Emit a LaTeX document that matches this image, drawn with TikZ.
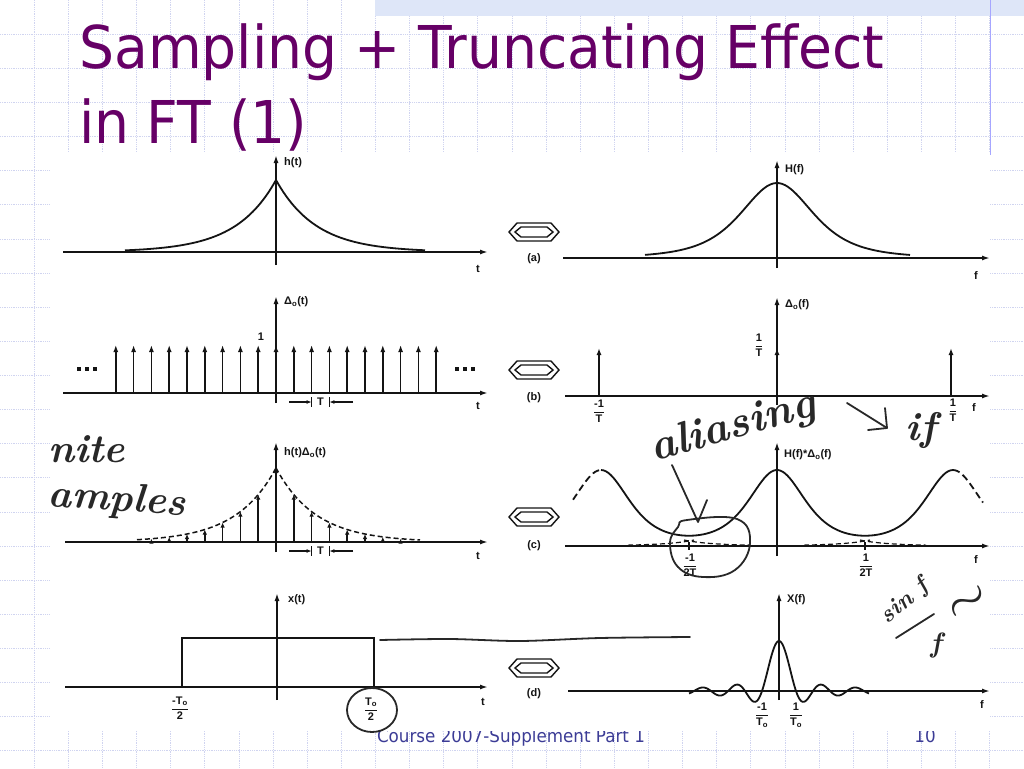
\documentclass[tikz,border=0pt]{standalone}
\usepackage{amsmath}
\usepackage{fontspec}
\usetikzlibrary{arrows.meta}
\newfontfamily\lblfont{Liberation Sans}
\newfontfamily\titlefont{DejaVu Sans}
\definecolor{titlepurple}{RGB}{102,0,102}
\definecolor{gridblue}{RGB}{208,212,240}
\definecolor{footblue}{RGB}{60,60,150}
\definecolor{bandblue}{RGB}{222,230,248}
\definecolor{ink}{RGB}{20,20,20}
\definecolor{penink}{RGB}{40,40,40}
\newcommand{\frc}[2]{$\dfrac{\text{#1}}{\text{#2}}$}

\begin{document}
\begin{tikzpicture}[x=1pt,y=-1pt,
  gridline/.style={gridblue, densely dotted, line width=0.8pt},
  axis/.style={ink, line width=1.8pt, -{Latex[length=8pt,width=5pt]}},
  plain/.style={ink, line width=1.8pt},
  imp/.style={ink, line width=1.6pt, -{Latex[length=7pt,width=5pt]}},
  smallimp/.style={ink, line width=1.5pt, -{Latex[length=5pt,width=4.5pt]}},
  env/.style={ink, line width=1.5pt, dash pattern=on 5pt off 3pt},
  lbl/.style={font=\lblfont\bfseries\fontsize{11}{11}\selectfont, text=ink, inner sep=1pt},
  hand/.style={font=\bfseries\itshape\fontsize{40}{40}\selectfont, text=penink, inner sep=0pt},
  handline/.style={penink, line width=1.8pt, line cap=round, line join=round},
  hexline/.style={ink, line width=1.4pt},
  declare function={
    hexp(\d)=exp(-abs(\d)/40);
    bell(\d,\s)=1/((1+(\d/\s)*(\d/\s))*(1+(\d/\s)*(\d/\s)));
    sinc(\d)=sin(180*\d/17)/(pi*\d/17);
  }]
\useasboundingbox (0,0) rectangle (1024,768);

% slide background
\fill[white] (0,0) rectangle (1024,768);
\foreach \i in {1,...,30} \draw[gridline] ({\i*34.13},0) -- ({\i*34.13},768);
\foreach \j in {1,...,22} \draw[gridline] (0,{\j*34.13}) -- (1024,{\j*34.13});
\fill[bandblue] (375,0) rectangle (1024,16);
\draw[blue!35, line width=0.8pt] (990,0) -- (990,155);

% title and footer
\node[font=\titlefont\fontsize{59}{59}\selectfont, text=titlepurple, anchor=base west, inner sep=0pt, xscale=0.935] (title1) at (79,68) {Sampling + Truncating Effect};
\node[font=\titlefont\fontsize{59}{59}\selectfont, text=titlepurple, anchor=base west, inner sep=0pt, xscale=0.935] (title2) at (79,143) {in FT (1)};
\node[font=\titlefont\fontsize{18}{18}\selectfont, text=footblue, anchor=base, inner sep=0pt, xscale=0.93] (footer) at (511,742) {Course 2007-Supplement Part 1};
\node[font=\titlefont\fontsize{18}{18}\selectfont, text=footblue, anchor=base, inner sep=0pt, xscale=0.93] (pageno) at (925,742) {10};

% scanned figure
\fill[white] (50,153) rectangle (990,731);

% Fourier pair symbols
\foreach \y/\ly/\p in {232/259/a, 370/398/b, 517/546/c, 668/694/d} {
  \draw[hexline] (509,\y) -- (517,\y-9) -- (551,\y-9) -- (559,\y) -- (551,\y+9) -- (517,\y+9) -- cycle;
  \draw[hexline] (515,\y) -- (521,\y-5) -- (547,\y-5) -- (553,\y) -- (547,\y+5) -- (521,\y+5) -- cycle;
  \node[lbl] (lab-\p) at (534,\ly) {(\p)};
}

% (a)
\draw[axis] (63,252) -- (488,252);
\draw[axis] (276,265) -- (276,155);
\draw[plain] plot[domain=125:276, samples=60] (\x,{252-72*hexp(\x-276)});
\draw[plain] plot[domain=276:425, samples=60] (\x,{252-72*hexp(\x-276)});
\node[lbl, anchor=west] (ht) at (283,163) {h(t)};
\node[lbl] (ta) at (478,269) {t};
\draw[axis] (563,258) -- (990,258);
\draw[axis] (777,268) -- (777,160);
\draw[plain] plot[domain=645:910, samples=90] (\x,{258-75*bell(\x-777,67)});
\node[lbl, anchor=west] (Hf) at (784,170) {H(f)};
\node[lbl] (fa) at (976,276) {f};

% (b)
\draw[axis] (63,393) -- (488,393);
\draw[axis] (276,403) -- (276,296);
\foreach \k in {-9,...,9} \draw[imp] ({276+17.8*\k},393) -- ({276+17.8*\k},345);
\foreach \x in {79,87,95,457,465,473} \fill[ink] (\x-2.2,366.8) rectangle (\x+2.2,371.2);
\node[lbl] (one) at (261,337) {1};
\node[lbl, anchor=west] (dt) at (283,302) {Δ\textsubscript{o}(t)};
\node[lbl] (tb) at (478,406) {t};
\draw[axis] (565,396) -- (990,396);
\draw[axis] (777,405) -- (777,297);
\foreach \x in {599,777,951} \draw[imp] (\x,396) -- (\x,348);
\node[lbl, anchor=west] (df) at (784,305) {Δ\textsubscript{o}(f)};
\node[lbl] (invT) at (759,345) {\frc{1}{T}};
\node[lbl] (minvT) at (599,411) {\frc{-1}{T}};
\node[lbl] (pinvT) at (953,410) {\frc{1}{T}};
\node[lbl] (fb) at (974,408) {f};

% sampling interval markers
\foreach \y in {402,551} {
  \draw[ink, line width=1.3pt, -{Latex[length=5pt,width=4pt]}] (289,\y) -- (311.6,\y);
  \draw[ink, line width=1.3pt, -{Latex[length=5pt,width=4pt]}] (353,\y) -- (329.4,\y);
  \draw[ink, line width=1.3pt] (311.6,\y-5) -- (311.6,\y+5);
  \draw[ink, line width=1.3pt] (329.4,\y-5) -- (329.4,\y+5);
  \node[lbl] (T\y) at (320.5,\y) {T};
}

% (c)
\draw[axis] (65,542) -- (488,542);
\draw[axis] (276,552) -- (276,442);
\draw[env] plot[domain=137:276, samples=50] (\x,{542-74*hexp(\x-276)});
\draw[env] plot[domain=276:420, samples=50] (\x,{542-74*hexp(\x-276)});
\foreach \k in {-7,...,7} \draw[smallimp] ({276+17.8*\k},542) -- ({276+17.8*\k},{542-74*hexp(17.8*\k)});
\node[lbl, anchor=west] (hdt) at (283,453) {h(t)Δ\textsubscript{o}(t)};
\node[lbl] (tc) at (478,556) {t};
\draw[axis] (565,546) -- (990,546);
\draw[axis] (777,556) -- (777,442);
\draw[plain] plot[domain=601:953, samples=150] (\x,{546-75*(bell(\x-425,52)+bell(\x-601,52)+bell(\x-777,52)+bell(\x-953,52)+bell(\x-1129,52))});
\draw[env, line width=1.8pt, dash pattern=on 7pt off 4pt] plot[domain=573:601, samples=15] (\x,{546-75*(bell(\x-425,52)+bell(\x-601,52)+bell(\x-777,52)+bell(\x-953,52))});
\draw[env, line width=1.8pt, dash pattern=on 7pt off 4pt] plot[domain=953:983, samples=15] (\x,{546-75*(bell(\x-601,52)+bell(\x-777,52)+bell(\x-953,52)+bell(\x-1129,52))});
\foreach \p/\a/\b in {601/684/750, 777/628/694, 777/860/926, 953/804/870}
  \draw[env, line width=1.2pt] plot[domain=\a:\b, samples=30] (\x,{546-75*bell(\x-\p,52)});
\foreach \x in {689,865} \draw[ink, line width=1.2pt] (\x,542) -- (\x,550);
\node[lbl, anchor=west] (Hdf) at (783,455) {H(f)*Δ\textsubscript{o}(f)};
\node[lbl] (mhalf) at (690,565) {\frc{-1}{2T}};
\node[lbl] (phalf) at (866,565) {\frc{1}{2T}};
\node[lbl] (fc) at (976,560) {f};

% (d)
\draw[axis] (65,687) -- (488,687);
\draw[axis] (277,700) -- (277,593);
\draw[plain] (182,687) -- (182,638) -- (374,638) -- (374,687);
\draw[handline] plot[smooth] coordinates {(380,640) (450,639) (520,641) (600,638) (690,637)};
\node[lbl, anchor=west] (xt) at (287,600) {x(t)};
\node[lbl] (td) at (483,702) {t};
\node[lbl] (mT0) at (180,708) {\frc{-T\textsubscript{o}}{2}};
\node[lbl] (pT0) at (371,709) {\frc{T\textsubscript{o}}{2}};
\draw[axis] (568,691) -- (990,691);
\draw[axis] (779,700) -- (779,593);
\draw[plain] plot[domain=689:869, samples=200] (\x,{691-50*sinc(\x-779)});
\node[lbl, anchor=west] (Xf) at (786,600) {X(f)};
\node[lbl] (mT0f) at (762,715) {\frc{-1}{T\textsubscript{o}}};
\node[lbl] (pT0f) at (796,715) {\frc{1}{T\textsubscript{o}}};
\node[lbl] (fd) at (982,705) {f};

% handwritten notes
\node[hand, anchor=west] (nite) at (48,449) {nite};
\node[hand, anchor=west, rotate=-4] (samples) at (48,496) {amples};
\node[hand, font=\bfseries\itshape\fontsize{44}{44}\selectfont, rotate=16] (alias) at (733,428) {aliasing};
\draw[handline] (847,403) -- (887,428);
\draw[handline] (885,408) -- (887,428) -- (868,430);
\node[hand] (iff) at (921,430) {if};
\draw[handline] (672,465) -- (698,522) -- (707,500);
\draw[handline] plot[smooth cycle, tension=0.7] coordinates {(687,520) (737,519) (750,543) (735,570) (703,577) (678,567) (670,543) (678,527)};
\draw[handline] (372,710) ellipse [x radius=25pt, y radius=22pt];
\node[hand, font=\bfseries\itshape\fontsize{24}{24}\selectfont, rotate=40] (sinf) at (905,602) {sin f};
\draw[handline] (896,638) -- (934,614);
\node[hand, font=\bfseries\itshape\fontsize{28}{28}\selectfont] (ovf) at (936,645) {f};
\node[hand, rotate=35] (tilde) at (975,612) {\smash{\scalebox{2.2}{$\sim$}}};
\end{tikzpicture}
\end{document}
